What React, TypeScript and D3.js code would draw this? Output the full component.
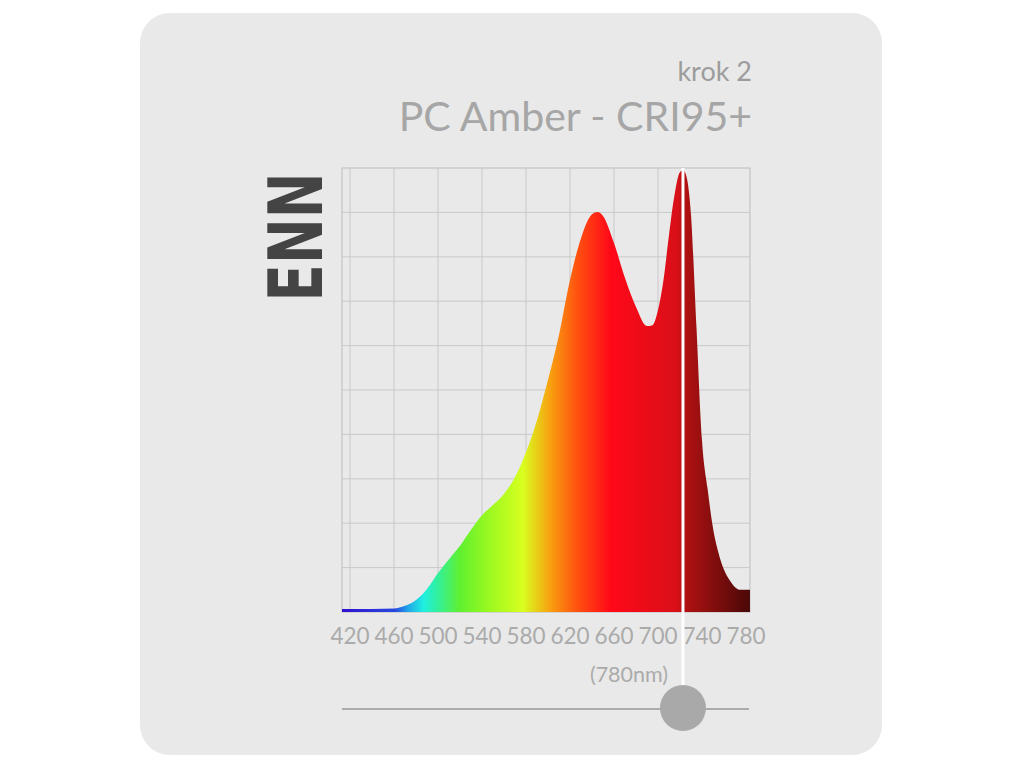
import React from "react";
import * as d3 from "d3";

const wavelengths = [412, 420, 440, 460, 470, 480, 490, 500, 510, 520, 530, 540, 550, 560, 570, 580, 590, 600, 610, 620, 630, 640, 645, 650, 660, 670, 680, 690, 695, 700, 705, 710, 715, 720, 723, 726, 730, 735, 740, 745, 750, 755, 760, 765, 770, 775, 780, 784];
const intensity = [0.007, 0.007, 0.007, 0.008, 0.014, 0.027, 0.052, 0.088, 0.119, 0.149, 0.185, 0.218, 0.241, 0.266, 0.304, 0.36, 0.432, 0.523, 0.624, 0.748, 0.842, 0.896, 0.901, 0.892, 0.831, 0.752, 0.687, 0.644, 0.646, 0.68, 0.748, 0.849, 0.939, 0.991, 0.995, 0.98, 0.894, 0.64, 0.387, 0.279, 0.189, 0.133, 0.095, 0.072, 0.056, 0.05, 0.05, 0.05];

const tickLabels = [420, 460, 500, 540, 580, 620, 660, 700, 740, 780];
const gridWavelengths = [420, 460, 500, 540, 580, 620, 660, 700];
const gridLevels = [0.1, 0.2, 0.3, 0.4, 0.5, 0.6, 0.7, 0.8, 0.9];

const colorStopNm = [412, 461, 473, 487, 499, 520, 545, 577, 602, 627, 657, 718, 723, 784];
const colorStopHex = ["#3010d0", "#2848e0", "#20a8e8", "#20f0e0", "#30f0a0", "#60f030", "#98f820", "#d8ff20", "#f8a010", "#ff5010", "#ff0818", "#d81018", "#b41212", "#4a0808"];

const markerNm = 722.7;
const title = "PC Amber - CRI95+";
const subtitle = "krok 2";
const brand = "ENN";
const markerLabel = "(780nm)";

const FONT = "Lato, 'Noto Sans', sans-serif";

export default function App() {
  const x = d3.scaleLinear().domain([420, 780]).range([350, 746]);
  const y = d3.scaleLinear().domain([0, 1]).range([612, 168]);
  const left = x(412.73);
  const right = x(783.6);
  const top = y(1);
  const bottom = y(0);

  const data = wavelengths.map((w, i) => ({ w, v: intensity[i] }));
  const area = d3
    .area<{ w: number; v: number }>()
    .x((d) => Math.min(right, Math.max(left, x(d.w))))
    .y0(bottom)
    .y1((d) => y(d.v))
    .curve(d3.curveMonotoneX);

  const mx = x(markerNm);

  return (
    <svg width={1024} height={768} style={{ position: "absolute", left: 0, top: 0, background: "#ffffff" }}>
      <defs>
        <linearGradient id="spec" gradientUnits="userSpaceOnUse" x1={left} x2={right} y1={0} y2={0}>
          {colorStopNm.map((w, i) => (
            <stop key={i} offset={(x(w) - left) / (right - left)} stopColor={colorStopHex[i]} />
          ))}
        </linearGradient>
      </defs>
      <rect x={140} y={13} width={742} height={742} rx={30} ry={30} fill="#e9e9e9" />

      <text x={752} y={81} textAnchor="end" fontFamily={FONT} fontSize={27} fill="#9c9c9c">
        {subtitle}
      </text>
      <text x={752} y={131} textAnchor="end" fontFamily={FONT} fontSize={41} fill="#a6a6a6">
        {title}
      </text>

      <text
        transform={`translate(322, 237) rotate(-90)`}
        textAnchor="middle"
        fontFamily="'DejaVu Sans', sans-serif"
        fontWeight="bold"
        fontSize={74}
        fill="#444444"
        textLength={129}
        lengthAdjust="spacingAndGlyphs"
      >
        {brand}
      </text>

      {gridWavelengths.map((w) => (
        <line key={"gx" + w} x1={x(w)} x2={x(w)} y1={top} y2={bottom} stroke="#c9c9c9" strokeWidth={1} />
      ))}
      {gridLevels.map((g) => (
        <line key={"gy" + g} x1={left} x2={right} y1={y(g)} y2={y(g)} stroke="#c9c9c9" strokeWidth={1} />
      ))}
      <rect x={left} y={top} width={right - left} height={bottom - top} fill="none" stroke="#c4c4c4" strokeWidth={1.2} />

      <path d={area(data) || ""} fill="url(#spec)" />

      {tickLabels.map((t) => (
        <text key={"t" + t} x={x(t)} y={644} textAnchor="middle" fontFamily={FONT} fontSize={22.5} fill="#ababab">
          {t}
        </text>
      ))}

      <line x1={mx} x2={mx} y1={top} y2={708} stroke="#ffffff" strokeWidth={3} />
      <text x={629} y={682} textAnchor="middle" fontFamily={FONT} fontSize={21.5} fill="#ababab">
        {markerLabel}
      </text>
      <line x1={left} x2={right - 1} y1={709} y2={709} stroke="#ababab" strokeWidth={2} />
      <circle cx={mx} cy={708} r={23} fill="#a9a9a9" />
    </svg>
  );
}
